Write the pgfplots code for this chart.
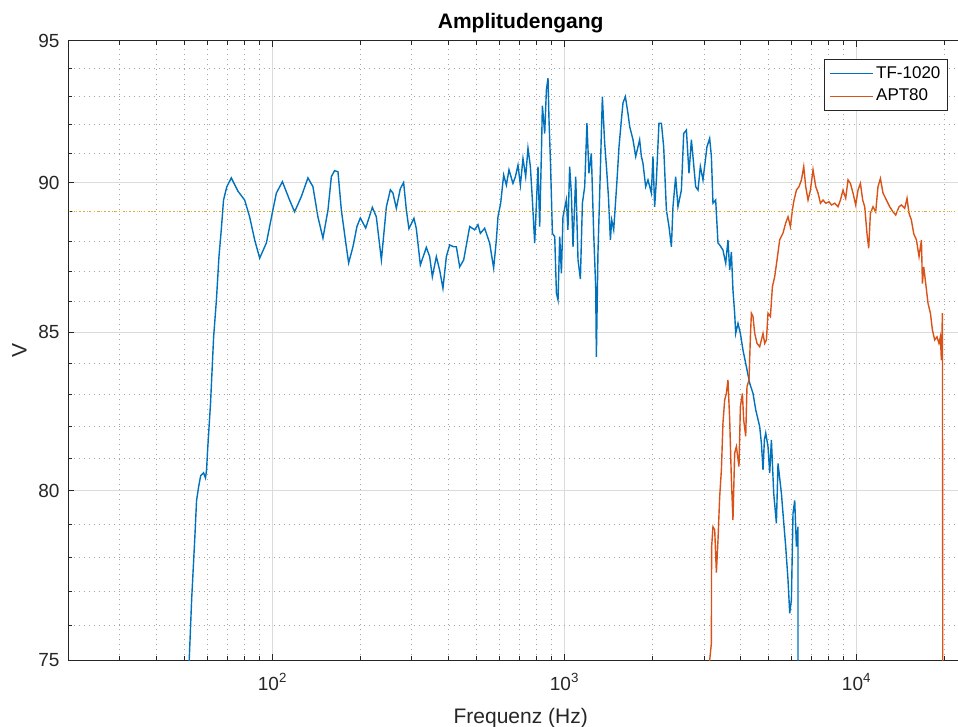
\documentclass[border=0pt]{standalone}
\usepackage{fontspec}
\setmainfont{Liberation Sans}
\usepackage{pgfplots}
\pgfplotsset{compat=1.18}
\definecolor{mblue}{HTML}{0072BD}
\definecolor{morange}{HTML}{D95319}
\definecolor{myellow}{HTML}{EDB120}
\definecolor{axgray}{HTML}{262626}
\begin{document}
\begin{tikzpicture}
\begin{axis}[
  scale only axis, width=452.2pt, height=309.8pt,
  xmode=log, ymode=log,
  xmin=20, xmax=25000, ymin=75, ymax=95,
  xtick={100,1000,10000},
  xticklabels={10\textsuperscript{2},10\textsuperscript{3},10\textsuperscript{4}},
  minor xtick={20,30,40,50,60,70,80,90,200,300,400,500,600,700,800,900,2000,3000,4000,5000,6000,7000,8000,9000,20000},
  ytick={75,80,85,90,95}, yticklabels={75,80,85,90,95},
  minor ytick={76,77,78,79,81,82,83,84,86,87,88,89,91,92,93,94},
  grid=both,
  major grid style={solid, line width=0.5pt, color=black!14},
  minor grid style={line width=0.5pt, color=black!35, dash pattern=on 0.5pt off 2pt},
  tick align=inside, xtick pos=both, ytick pos=both,
  major tick length=3pt, minor tick length=2pt,
  every tick/.style={axgray, line width=0.5pt},
  axis line style={axgray, line width=0.6pt},
  tick label style={font=\fontsize{9.5}{11}\selectfont, text=axgray},
  xticklabel style={yshift=-3pt},
  yticklabel style={xshift=-1pt},
  title={Amplitudengang},
  title style={font=\bfseries\fontsize{10.5}{12}\selectfont, at={(axis description cs:0.5,1)}, anchor=base, text=black},
  xlabel={Frequenz (Hz)},
  xlabel style={font=\fontsize{10.5}{12}\selectfont, at={(axis description cs:0.5,0)}, anchor=base, yshift=-31.5pt, text=axgray},
  ylabel={V},
  ylabel style={font=\fontsize{10.5}{12}\selectfont, at={(axis description cs:-0.0464,0.5)}, anchor=base, text=axgray},
  legend style={at={(rel axis cs:1,1)}, anchor=north east, xshift=-12.5pt, yshift=-9pt,
    draw=axgray, line width=0.5pt, fill=white, font=\fontsize{8.5}{10}\selectfont,
    inner xsep=2.5pt, inner ysep=2.5pt, row sep=1.8pt, nodes={inner sep=1pt}},
  legend cell align=left,
  legend image code/.code={\draw[#1] (0pt,0pt) -- (21.5pt,0pt);},
]
\addplot[mblue, line width=0.7pt] coordinates {
(51.2,74.5) (51.8,75.0) (52.8,76.75) (54.1,78.53) (54.9,79.73) (55.8,80.13) (56.7,80.47) (58.0,80.56) (58.9,80.40) (59.4,80.65) (59.9,81.27) (61.3,82.74) (62.8,84.85) (64.2,86.05) (65.5,87.49) (66.7,88.39) (67.9,89.40) (69.7,89.86) (72.2,90.16) (76.1,89.70) (80.2,89.40) (83.4,88.83) (86.8,88.05) (90.3,87.44) (95.2,87.95) (100.2,89.06) (103.0,89.64) (108.0,90.03) (114.3,89.40) (118.9,89.0) (125.4,89.52) (132.1,90.16) (137.4,89.86) (142.9,88.83) (148.7,88.11) (154.7,89.06) (158.9,90.2) (163.0,90.41) (167.4,90.37) (171.9,89.06) (178.8,87.82) (182.1,87.28) (188.4,87.82) (194.4,88.5) (199.7,88.79) (208.3,88.45) (219.5,89.15) (226.5,88.83) (235.7,87.38) (245.2,89.17) (253.0,89.75) (258.2,89.64) (265.2,89.12) (273.7,89.79) (280.9,90.0) (287.0,89.06) (292.9,88.43) (304.7,88.78) (310.5,88.43) (320.5,87.21) (336.0,87.80) (344.9,87.49) (352.3,86.82) (363.6,87.49) (373.2,87.04) (383.0,86.44) (393.5,87.49) (403.9,87.88) (416.8,87.82) (425.7,87.82) (437.0,87.15) (451.0,87.38) (472.9,88.5) (491.8,88.39) (504.8,88.56) (514.4,88.27) (532.1,88.44) (553.6,87.94) (571.2,87.11) (583.6,88.05) (591.1,88.83) (603.7,89.29) (618.2,90.26) (631.5,89.91) (644.6,90.44) (665.2,89.97) (678.1,90.2) (692.1,90.6) (705.3,89.91) (719.9,90.83) (735.3,90.2) (748.8,91.19) (763.1,90.55) (775.4,89.40) (789.6,87.94) (810.4,90.55) (821.3,88.5) (832.4,91.01) (838.9,92.68) (854.3,91.7) (865.8,93.24) (876.9,93.66) (883.8,92.17) (893.6,90.78) (907.9,88.27) (924.6,88.16) (937.0,86.28) (948.9,86.05) (961.7,88.16) (974.6,86.93) (986.7,88.83) (1013,89.40) (1026,88.39) (1040,90.55) (1054,89.64) (1068,87.82) (1091,90.2) (1111,87.38) (1132,86.74) (1150,89.29) (1171,89.86) (1192,92.06) (1211,90.32) (1234,91.01) (1257,88.27) (1277,86.5) (1284,84.21) (1300,87.59) (1325,90.44) (1346,93.0) (1371,91.35) (1390,90.55) (1412,89.52) (1434,88.05) (1449,88.72) (1472,88.39) (1511,90.09) (1535,91.24) (1564,92.18) (1584,92.78) (1614,93.0) (1647,92.41) (1670,91.94) (1714,91.48) (1751,90.9) (1806,91.48) (1831,90.9) (1854,90.67) (1894,89.86) (1929,90.09) (1981,89.64) (2006,90.9) (2033,89.17) (2061,90.09) (2103,92.06) (2144,92.06) (2183,91.24) (2230,89.06) (2276,88.5) (2320,87.82) (2349,89.17) (2399,90.2) (2443,89.17) (2510,89.74) (2556,91.7) (2611,91.82) (2665,90.32) (2716,91.48) (2750,90.9) (2809,89.86) (2861,89.74) (2915,90.55) (2976,90.09) (3071,91.24) (3137,91.53) (3180,90.9) (3220,89.29) (3289,89.40) (3350,87.94) (3395,87.88) (3484,87.71) (3560,87.27) (3624,88.05) (3674,87.04) (3723,87.65) (3770,86.38) (3821,85.62) (3851,84.96) (3922,85.29) (3997,84.96) (4080,84.42) (4190,83.89) (4301,83.36) (4415,83.04) (4510,82.52) (4654,81.99) (4717,81.47) (4777,80.65) (4830,81.58) (4880,81.79) (4969,81.37) (5036,80.55) (5104,81.58) (5198,79.94) (5309,79.03) (5377,80.85) (5523,79.94) (5593,79.33) (5713,78.33) (5818,77.34) (5897,76.36) (5976,76.75) (6052,79.33) (6134,79.73) (6217,78.33) (6295,78.93) (6300,70)
};
\addlegendentry{TF-1020}
\addplot[morange, line width=0.7pt] coordinates {
(3125,70) (3137,75.0) (3180,75.5) (3185,78.3) (3220,78.93) (3264,78.83) (3308,77.55) (3350,78.53) (3395,79.83) (3441,80.65) (3484,82.1) (3531,82.83) (3579,83.04) (3624,83.47) (3674,82.2) (3723,80.35) (3770,79.13) (3821,81.16) (3873,81.37) (3953,80.75) (3997,82.62) (4061,83.04) (4102,82.2) (4168,81.69) (4210,83.25) (4278,83.47) (4325,84.85) (4359,85.62) (4415,85.51) (4475,84.96) (4557,84.64) (4654,84.53) (4777,84.96) (4841,84.64) (4907,84.75) (4969,85.62) (5064,85.51) (5144,86.49) (5238,86.82) (5335,87.38) (5450,88.06) (5593,88.28) (5713,88.62) (5818,88.83) (5929,88.5) (6024,89.06) (6085,89.34) (6217,89.74) (6346,89.86) (6467,90.09) (6586,90.55) (6690,89.86) (6813,89.40) (6943,89.74) (7087,90.44) (7240,89.86) (7373,89.64) (7514,89.29) (7670,89.40) (7834,89.29) (8041,89.34) (8196,89.23) (8412,89.29) (8630,89.17) (8796,89.40) (8978,89.74) (9170,89.46) (9338,90.09) (9516,89.97) (9712,89.64) (9922,89.23) (10104,89.74) (10297,89.97) (10484,89.40) (10651,89.17) (10846,88.26) (10992,87.77) (11140,88.95) (11371,89.17) (11617,89.0) (11828,89.86) (12056,90.14) (12303,89.64) (12638,89.40) (12972,89.17) (13314,89.0) (13602,88.89) (13961,89.17) (14227,89.23) (14602,89.12) (14870,89.46) (15105,88.95) (15393,88.72) (15676,88.26) (16016,88.05) (16347,87.49) (16659,88.05) (16790,86.59) (16965,87.15) (17233,86.59) (17550,85.94) (17885,85.62) (18168,85.07) (18502,84.75) (18836,84.85) (19133,84.64) (19346,84.85) (19503,84.10) (19656,85.62) (19747,70)
};
\addlegendentry{APT80}
\addplot[myellow, line width=0.6pt, dash pattern=on 0.6pt off 1.2pt, forget plot] coordinates {(20,89) (25000,89)};
\end{axis}
\pgfresetboundingbox
\path ([shift={(-34.25pt,-33.2pt)}]current axis.south west) rectangle ([shift={(-7.45pt,20.5pt)}]current axis.north east);
\end{tikzpicture}
\end{document}
